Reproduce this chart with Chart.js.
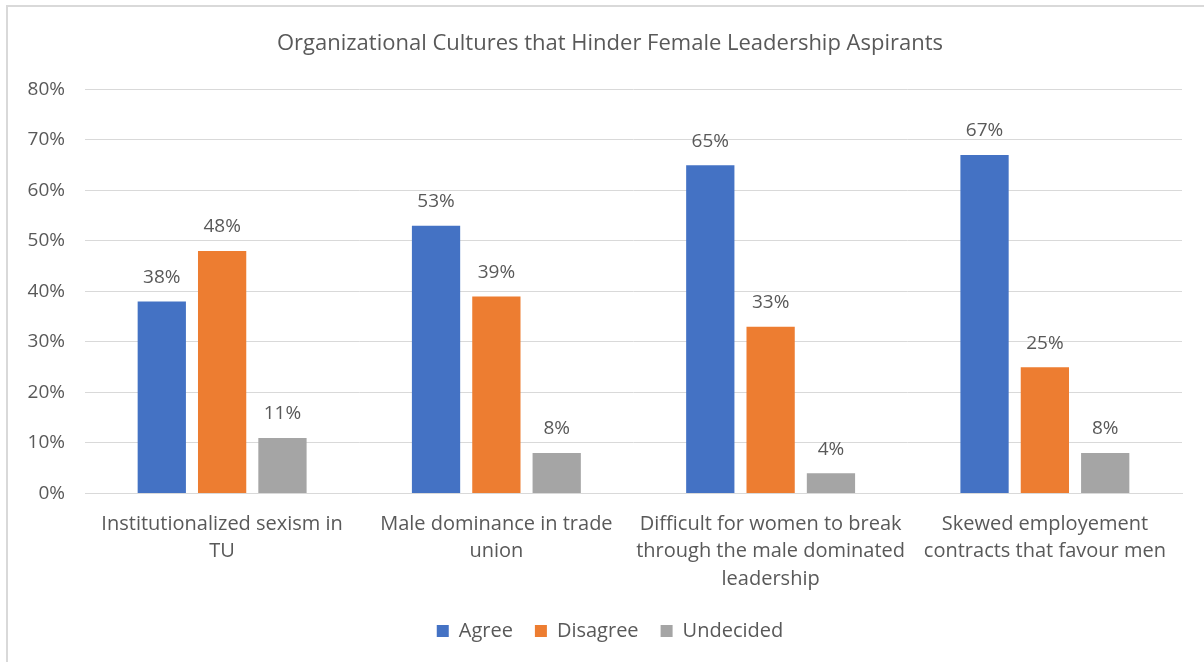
<!DOCTYPE html>
<html>
<head>
<meta charset="utf-8">
<script src="https://cdn.jsdelivr.net/npm/chart.js@4.4.1/dist/chart.umd.min.js"></script>
<style>
    html, body { margin: 0; padding: 0; background: #fff; overflow: hidden; }
    #frame {
        position: absolute; left: 6px; top: 5px;
        width: 1196px; height: 655px;
        border-left: 2px solid #d9d9d9; border-top: 2px solid #d9d9d9;
    }
    #frame canvas { display: block; }
</style>
</head>
<body>
<div id="frame"><canvas id="cultureChart" width="1196" height="655"></canvas></div>
<script>
const categories = [
    ["Institutionalized sexism in", "TU"],
    ["Male dominance in trade", "union"],
    ["Difficult for women to break", "through the male dominated", "leadership"],
    ["Skewed employement", "contracts that favour men"]
];
const agree = [38, 53, 65, 67];
const disagree = [48, 39, 33, 25];
const undecided = [11, 8, 4, 8];
const yTicks = [0, 10, 20, 30, 40, 50, 60, 70, 80];

const FONT = "'Open Sans'";
const TEXT = "#595959";
const GRID = "#d9d9d9";

// draws the % value above each bar
const barValueLabels = {
    id: "barValueLabels",
    afterDatasetsDraw(chart) {
        const ctx = chart.ctx;
        ctx.save();
        ctx.font = `19px ${FONT}`;
        ctx.fillStyle = TEXT;
        ctx.textAlign = "center";
        ctx.textBaseline = "middle";
        chart.data.datasets.forEach((ds, i) => {
            const meta = chart.getDatasetMeta(i);
            meta.data.forEach((bar, j) => {
                ctx.fillText(ds.data[j] + "%", bar.x, bar.y - 24);
            });
        });
        ctx.restore();
    }
};

const ctx = document.getElementById("cultureChart").getContext("2d");
new Chart(ctx, {
    type: "bar",
    data: {
        labels: categories,
        datasets: [
            { label: "Agree", data: agree, backgroundColor: "#4472c4" },
            { label: "Disagree", data: disagree, backgroundColor: "#ed7d31" },
            { label: "Undecided", data: undecided, backgroundColor: "#a5a5a5" }
        ]
    },
    options: {
        responsive: false,
        animation: false,
        layout: { padding: { left: 8, right: 0, top: 0, bottom: 11 } },
        datasets: {
            bar: { categoryPercentage: 0.66, barPercentage: 0.8 }
        },
        scales: {
            x: {
                afterFit: (scale) => { scale.height -= 11; },
                grid: { display: false, drawTicks: false },
                border: { display: true, color: GRID, width: 1 },
                ticks: {
                    color: TEXT,
                    font: { family: FONT, size: 20, lineHeight: 1.375 },
                    padding: 17,
                    maxRotation: 0
                }
            },
            y: {
                min: 0,
                max: 80,
                afterBuildTicks: (scale) => { scale.ticks = yTicks.map(v => ({ value: v })); },
                afterFit: (scale) => { scale.width = 69; },
                grid: { color: GRID, lineWidth: 1, drawTicks: false },
                border: { display: false },
                ticks: {
                    color: TEXT,
                    font: { family: FONT, size: 19 },
                    padding: 20,
                    callback: (v) => v + "%"
                }
            },
            // empty right-hand spacer so title and legend stay centred on the frame
            spacer: {
                type: "linear",
                position: "right",
                afterFit: (scale) => { scale.width = 22; },
                grid: { display: false },
                border: { display: false },
                ticks: { display: false }
            }
        },
        plugins: {
            title: {
                display: true,
                text: "Organizational Cultures that Hinder Female Leadership Aspirants",
                color: TEXT,
                font: { family: FONT, size: 22, weight: "normal" },
                padding: { top: 24, bottom: 32 }
            },
            legend: {
                position: "bottom",
                labels: {
                    color: TEXT,
                    font: { family: FONT, size: 20 },
                    boxWidth: 12,
                    boxHeight: 12,
                    padding: 22
                }
            },
            tooltip: { enabled: false }
        }
    },
    plugins: [barValueLabels]
});
</script>
</body>
</html>
